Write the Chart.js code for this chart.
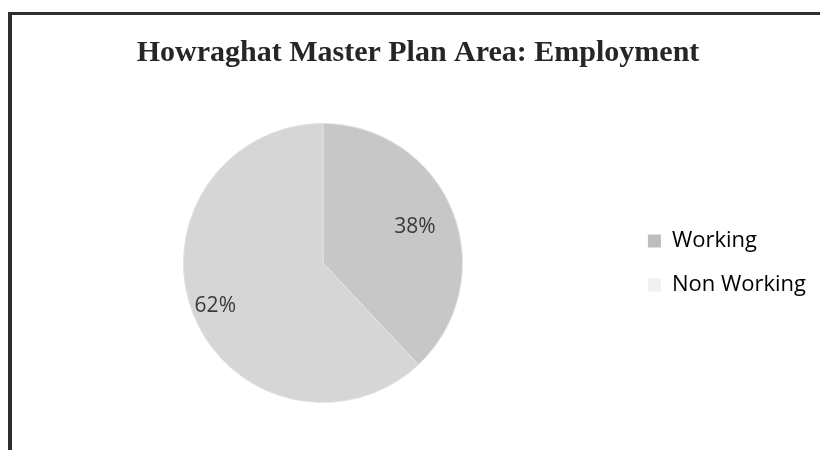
<!DOCTYPE html>
<html>
<head>
<meta charset="utf-8">
<script src="https://cdn.jsdelivr.net/npm/chart.js@4.4.1/dist/chart.umd.min.js"></script>
<style>
  html, body { margin: 0; padding: 0; background: #fff; }
  #wrap { position: relative; width: 820px; height: 450px; }
  #frame {
    position: absolute; left: 8px; top: 12px; right: -10px; bottom: -10px;
    border-left: 4px solid #2e2e2e; border-top: 3px solid #2e2e2e;
    pointer-events: none;
  }
</style>
</head>
<body>
<div id="wrap">
  <canvas id="chart" width="820" height="450"></canvas>
  <div id="frame"></div>
</div>
<script>
const categories = ['Working', 'Non Working'];
const shares = [38, 62]; // percent
const sliceColors = ['#c7c7c7', '#d6d6d6'];
const legendColors = ['#bdbdbd', '#f1f1f1'];

// draws the % labels inside each slice
const pctLabels = {
  id: 'pctLabels',
  afterDatasetsDraw(chart, args, opts) {
    const ctx = chart.ctx;
    const meta = chart.getDatasetMeta(0);
    ctx.save();
    ctx.font = '21px "Open Sans", sans-serif';
    ctx.fillStyle = '#3a3a3a';
    ctx.textAlign = 'center';
    ctx.textBaseline = 'middle';
    meta.data.forEach((arc, i) => {
      const mid = (arc.startAngle + arc.endAngle) / 2;
      const r = arc.outerRadius * opts.dist[i];
      ctx.fillText(shares[i] + '%', arc.x + Math.cos(mid) * r, arc.y + Math.sin(mid) * r);
    });
    ctx.restore();
  }
};

const ctx = document.getElementById('chart').getContext('2d');
const chart = new Chart(ctx, {
  type: 'pie',
  data: {
    labels: categories,
    datasets: [{
      data: shares,
      backgroundColor: sliceColors,
      borderColor: '#e2e2e2',
      borderWidth: 1
    }]
  },
  options: {
    responsive: false,
    animation: false,
    layout: { padding: { left: 20, right: 4, top: 0, bottom: 47 } },
    plugins: {
      title: {
        display: true,
        text: 'Howraghat Master Plan Area: Employment',
        color: '#262626',
        font: { family: '"Liberation Serif", serif', size: 30, weight: 'bold' },
        padding: { top: 35, bottom: 52 }
      },
      legend: {
        position: 'right',
        fullSize: false,
        labels: {
          color: '#3a3a3a',
          font: { family: '"Open Sans", sans-serif', size: 22 },
          boxWidth: 13,
          boxHeight: 13,
          padding: 22,
          generateLabels(c) {
            return categories.map((name, i) => ({
              text: name,
              fillStyle: legendColors[i],
              strokeStyle: legendColors[i],
              lineWidth: 0,
              index: i
            }));
          }
        }
      },
      pctLabels: { dist: [0.71, 0.83] },
      tooltip: { enabled: false }
    }
  },
  plugins: [pctLabels]
});
</script>
</body>
</html>
